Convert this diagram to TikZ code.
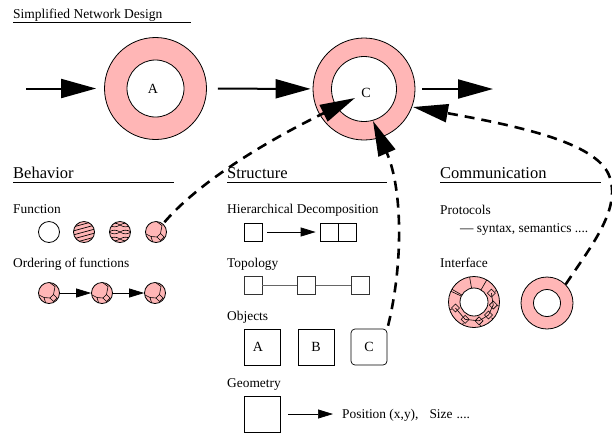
\documentclass[tikz,border=0pt]{standalone}
\usepackage{fontspec}
\setmainfont{Liberation Serif}
\usetikzlibrary{arrows.meta,calc}
\definecolor{ringpink}{RGB}{255,182,182}
\tikzset{
    flowarrow/.style={line width=2pt,-{Triangle[length=35pt,width=19pt]}},
    backarrow/.style={line width=2.6pt,dash pattern=on 10pt off 7pt,-{Triangle[length=35pt,width=18pt]}},
    thinarrow/.style={line width=0.7pt,-{Triangle[length=15pt,width=9pt]}},
    ringnode/.style={circle,draw,fill=ringpink,line width=0.8pt,inner sep=0pt},
    holenode/.style={circle,draw,fill=white,line width=0.8pt,inner sep=0pt},
    ballnode/.style={circle,draw,fill=ringpink,line width=0.8pt,inner sep=0pt,minimum size=21pt},
    plainball/.style={ballnode,fill=white},
    hatchball/.style={ballnode,path picture={
        \foreach \y in {-8,-4,0,4,8}
            \draw[line width=0.7pt] ($(path picture bounding box.center)+(-11,\y+3)$) -- ++(22,-6);
    }},
    netball/.style={ballnode,path picture={
        \coordinate (o) at (path picture bounding box.center);
        \foreach \y in {-7,0,7} {
            \draw[line width=0.6pt] ($(o)+(-11,\y)$) to[bend left=35] ($(o)+(0,\y)$) to[bend left=35] ($(o)+(11,\y)$);
            \draw[line width=0.6pt] ($(o)+(-11,\y)$) to[bend right=35] ($(o)+(0,\y)$) to[bend right=35] ($(o)+(11,\y)$);
        }
    }},
    cellball/.style={ballnode,path picture={
        \coordinate (o) at (path picture bounding box.center);
        \draw[line width=0.6pt] ($(o)+(4.5,1.5)$) -- ($(o)+(8,5)$) -- ($(o)+(4.5,8.5)$) -- ($(o)+(1,5)$) -- cycle;
        \draw[line width=0.6pt] ($(o)+(0,-11)$) -- ($(o)+(6,-6.5)$) -- ($(o)+(4.5,1.5)$);
        \draw[line width=0.6pt] ($(o)+(1,5)$) -- ($(o)+(-5,4.5)$) -- ($(o)+(-10,2)$);
        \draw[line width=0.6pt] ($(o)+(-5,4.5)$) -- ($(o)+(-3,11)$);
    }},
    cellring/.style={path picture={
        \coordinate (o) at (path picture bounding box.center);
        \foreach \a in {-27,9,42,75,117,162} {
            \draw[line width=0.6pt] ($(o)+(\a:19.5)+(4,0)$) -- ($(o)+(\a:19.5)+(0,4)$) -- ($(o)+(\a:19.5)+(-4,0)$) -- ($(o)+(\a:19.5)+(0,-4)$) -- cycle;
            \draw[line width=0.6pt] ($(o)+(\a:23.5)$) -- ($(o)+(\a:27)$);
        }
        \foreach \a/\b in {-27/9,9/42,42/75,75/117,117/162}
            \draw[line width=0.6pt] ($(o)+(\a:19.5)$) -- ($(o)+(\b:19.5)$);
        \foreach \a in {-150,-100,-60,205}
            \draw[line width=0.6pt] ($(o)+(\a:14)$) -- ($(o)+(\a:27)$);
    }},
    boxnode/.style={draw,line width=0.7pt,inner sep=0pt,minimum size=18pt},
    topbox/.style={boxnode,draw=black!80},
    bigbox/.style={draw,line width=0.7pt,inner sep=0pt,minimum size=36pt},
    linkline/.style={draw=black!60,line width=0.8pt},
    titletext/.style={anchor=base west,inner sep=0pt,font=\fontsize{13.5}{15}\selectfont},
    headtext/.style={anchor=base west,inner sep=0pt,font=\fontsize{16.5}{18}\selectfont},
    labeltext/.style={anchor=base west,inner sep=0pt,font=\fontsize{13.4}{15}\selectfont},
    lettertext/.style={inner sep=0pt,font=\fontsize{14}{16}\selectfont},
    headrule/.style={line width=0.5pt},
}
\begin{document}
\begin{tikzpicture}[x=1pt,y=-1pt]
    \useasboundingbox (0,0) rectangle (612,432);
    % top row
    \node[titletext] (title) at (13,18) {Simplified Network Design};
    \coordinate (titlea) at (13,22.5);
    \coordinate (titleb) at (191,22.5);
    \draw[headrule] (titlea) -- (titleb);
    \node[ringnode,minimum size=102pt] (ringA) at (155.5,88.5) {};
    \node[holenode,minimum size=57pt] (holeA) at (155.5,88.5) {};
    \node[lettertext] (letterA) at (153,89) {A};
    \node[ringnode,minimum size=102pt] (ringC) at (364,89) {};
    \node[holenode,minimum size=65pt] (holeC) at (364,89) {};
    \node[lettertext] (letterC) at (366,93) {C};
    \coordinate (inA) at (26,88.5);
    \coordinate (outC) at (422,89);
    \coordinate (endC) at (493,89);
    \draw[flowarrow,shorten >=8pt] (inA) -- (ringA);
    \draw[flowarrow,shorten <=11pt,shorten >=2pt] (ringA) -- (ringC);
    \draw[flowarrow] (outC) -- (endC);
    % behavior
    \node[headtext] (behavior) at (13,178) {Behavior};
    \coordinate (behaviorend) at (174,182.5);
    \draw[headrule] (13,182.5) -- (behaviorend);
    \node[labeltext] (function) at (13,213) {Function};
    \node[plainball] (balla) at (49,232) {};
    \node[hatchball] (ballb) at (84,232) {};
    \node[netball] (ballc) at (120,232) {};
    \node[cellball] (balld) at (156,232) {};
    \node[labeltext] (ordering) at (13,267) {Ordering of functions};
    \node[cellball] (orda) at (49,293) {};
    \node[cellball] (ordb) at (102,293) {};
    \node[cellball] (ordc) at (155,293) {};
    \draw[thinarrow] (orda) -- (ordb);
    \draw[thinarrow] (ordb) -- (ordc);
    % structure
    \node[headtext] (structure) at (227,178) {Structure};
    \coordinate (structureend) at (387,182.5);
    \draw[headrule] (227,182.5) -- (structureend);
    \node[labeltext] (hier) at (227,213) {Hierarchical Decomposition};
    \node[boxnode] (hiera) at (253,232) {};
    \node[boxnode] (hierb) at (329,232) {};
    \node[boxnode] (hierc) at (347,232) {};
    \draw[thinarrow,shorten >=4pt,shorten <=5pt] (hiera) -- (hierb);
    \node[labeltext] (topology) at (227,267) {Topology};
    \node[topbox] (topa) at (253,285) {};
    \node[topbox] (topb) at (306.5,285) {};
    \node[topbox] (topc) at (360,285) {};
    \draw[linkline] (topa) -- (topb);
    \draw[linkline] (topb) -- (topc);
    \node[labeltext] (objects) at (227,320.5) {Objects};
    \node[bigbox] (obja) at (262,347) {};
    \node[lettertext] at (258,347) (lettera) {A};
    \node[bigbox,font=\fontsize{14}{16}\selectfont] (objb) at (316,347) {B};
    \node[bigbox,rounded corners=4pt,font=\fontsize{14}{16}\selectfont] (objc) at (369,347) {C};
    \node[labeltext] (geometry) at (227,387) {Geometry};
    \node[bigbox] (geombox) at (262,414) {};
    \node[labeltext] (position) at (342,418) {Position (x,y),\hspace{11pt}Size\hspace{4pt}....};
    \draw[thinarrow,shorten >=9pt,shorten <=8pt] (geombox) -- (position.base west |- geombox);
    % communication
    \node[headtext] (communication) at (440,178) {Communication};
    \coordinate (communicationend) at (601,182.5);
    \draw[headrule] (440,182.5) -- (communicationend);
    \node[labeltext] (protocols) at (440,214) {Protocols};
    \node[labeltext] (syntax) at (460,232) {--- syntax, semantics ....};
    \node[labeltext] (interface) at (440,267) {Interface};
    \node[ringnode,minimum size=51pt,cellring] (ifacea) at (474,302) {};
    \node[holenode,minimum size=28pt] (holea) at (474,302) {};
    \node[ringnode,minimum size=52pt] (ifaceb) at (547,303) {};
    \node[holenode,minimum size=27pt] (holeb) at (547,303) {};
    % dashed feedback
    \coordinate (tipf) at (355,98);
    \coordinate (tips) at (373,121);
    \coordinate (tipc) at (413,107);
    \coordinate (bendc) at (610,178);
    \draw[backarrow,shorten <=2pt] (balld) .. controls (205,175) and (285,132) .. (tipf);
    \draw[backarrow,shorten <=3pt] (objc.north east) .. controls (403,265) and (403,190) .. (tips);
    \draw[backarrow] (ifaceb.north east) .. controls (592,245) and (620,210) .. (bendc)
        .. controls (600,145) and (530,128) .. (tipc);
\end{tikzpicture}
\end{document}
